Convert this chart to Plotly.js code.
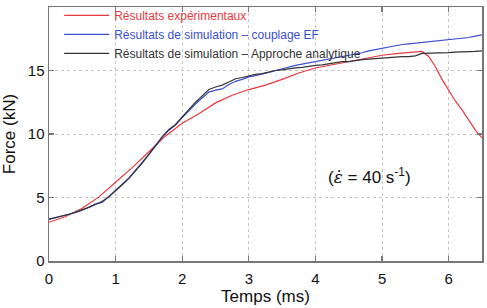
<!DOCTYPE html>
<html>
<head>
<meta charset="utf-8">
<script src="https://cdn.plot.ly/plotly-3.0.1.min.js"></script>
<style>html,body{margin:0;padding:0;background:#fff;}#chart{width:487px;height:308px;}</style>
</head>
<body>
<div id="chart"></div>
<script>
// Time axis samples (ms)
var tSim = [0.0,0.1,0.2,0.3,0.4,0.5,0.6,0.7,0.8,0.9,1.0,1.1,1.2,1.3,1.4,1.5,1.6,1.7,1.8,1.9,2.0,2.1,2.2,2.3,2.4,2.5,2.6,2.7,2.8,2.9,3.0,3.1,3.2,3.3,3.4,3.5,3.6,3.7,3.8,3.9,4.0,4.1,4.2,4.3,4.4,4.5,4.6,4.7,4.8,4.9,5.0,5.1,5.2,5.3,5.4,5.5,5.6,5.7,5.8,5.9,6.0,6.1,6.2,6.3,6.4,6.5];
// Simulation - couplage EF (kN)
var forceEF = [3.28,3.40,3.52,3.66,3.82,4.00,4.25,4.50,4.62,5.10,5.55,6.05,6.55,7.15,7.75,8.40,9.05,9.75,10.30,10.70,11.30,11.85,12.35,12.85,13.30,13.45,13.55,13.90,14.15,14.30,14.50,14.60,14.70,14.85,15.00,15.15,15.25,15.40,15.50,15.60,15.70,15.80,15.90,15.95,16.05,16.15,16.30,16.40,16.55,16.65,16.80,16.90,17.00,17.05,17.10,17.15,17.25,17.30,17.35,17.40,17.45,17.50,17.50,17.60,17.70,17.80];
// Simulation - approche analytique (kN)
var forceAna = [3.30,3.42,3.55,3.68,3.85,4.02,4.22,4.45,4.70,5.05,5.50,6.00,6.50,7.10,7.70,8.40,9.10,9.80,10.35,10.75,11.35,11.95,12.50,13.00,13.50,13.70,13.85,14.10,14.35,14.45,14.60,14.70,14.75,14.90,15.00,15.05,15.15,15.20,15.25,15.35,15.40,15.45,15.55,15.65,15.70,15.70,15.80,15.85,15.90,15.95,16.00,16.00,16.05,16.10,16.10,16.15,16.35,16.35,16.40,16.40,16.40,16.45,16.45,16.50,16.50,16.55];
// Experimental results
var tExp = [0,0.25,0.5,0.75,1.0,1.25,1.5,1.75,2.0,2.25,2.5,2.75,3.0,3.25,3.5,3.75,4.0,4.25,4.5,4.75,5.0,5.25,5.5,5.6,5.7,5.8,5.9,6.0,6.1,6.2,6.3,6.4,6.5];
var forceExp = [3.05,3.5,4.15,5.05,6.2,7.35,8.6,9.85,10.85,11.6,12.45,13.05,13.5,13.85,14.3,14.8,15.2,15.45,15.7,15.95,16.2,16.35,16.45,16.5,16.1,15.3,14.3,13.4,12.6,11.9,11.1,10.3,9.7];

var xTicks = [0,1,2,3,4,5,6];
var yTicks = [0,5,10,15,20];
var names = ['Résultats expérimentaux','Résultats de simulation – couplage EF','Résultats de simulation – Approche analytique'];
var colors = ['#e6383e','#3a4fd0','#333333'];

var traces = [
  {x: tExp, y: forceExp, type:'scatter', mode:'lines', line:{color:colors[0], width:1.2}, name:'<span style="color:'+colors[0]+'">'+names[0]+'</span>'},
  {x: tSim, y: forceEF, type:'scatter', mode:'lines', line:{color:colors[1], width:1.2}, name:'<span style="color:'+colors[1]+'">'+names[1]+'</span>'},
  {x: tSim, y: forceAna, type:'scatter', mode:'lines', line:{color:colors[2], width:1.2}, name:'<span style="color:'+colors[2]+'">'+names[2]+'</span>'}
];

var axisCommon = {
  showline:true, linecolor:'#777', linewidth:1.5, mirror:'ticks',
  ticks:'inside', ticklen:5, tickcolor:'#777', tickwidth:1.2,
  showgrid:true, gridcolor:'#c4c4c4', griddash:'dot', gridwidth:1,
  zeroline:false,
  tickfont:{family:'Liberation Sans, Arial, sans-serif', size:15, color:'#111'}
};

var layout = {
  width:487, height:308,
  margin:{l:49, r:5, t:7, b:47, autoexpand:false},
  paper_bgcolor:'#fff', plot_bgcolor:'#fff',
  font:{family:'Liberation Sans, Arial, sans-serif', color:'#111'},
  xaxis: Object.assign({}, axisCommon, {range:[0,6.5], tickvals:xTicks, ticktext:xTicks.map(String), ticklabelstandoff:3,
    title:{text:'Temps (ms)', font:{size:17, color:'#111'}, standoff:4}}),
  yaxis: Object.assign({}, axisCommon, {range:[0,20], tickvals:yTicks, ticktext:yTicks.map(String),
    title:{text:'Force (kN)', font:{size:17, color:'#111'}, standoff:8}}),
  showlegend:true,
  legend:{x:0.0235, y:1.024, xanchor:'left', yanchor:'top', bgcolor:'rgba(0,0,0,0)', borderwidth:0,
    font:{family:'Liberation Sans, Arial, sans-serif', size:12, color:'#111'}, itemwidth:45, tracegroupgap:0},
  annotations:[
    {xref:'x', yref:'y', x:4.81, y:6.7, xanchor:'center', yanchor:'middle', showarrow:false,
     text:'(<span style="font-family:DejaVu Serif"><i>ε\u0307</i></span> = 40 s<sup>-1</sup>)', font:{family:'Liberation Sans, Arial, sans-serif', size:17, color:'#111'}}
  ]
};

Plotly.newPlot('chart', traces, layout, {staticPlot:true, displayModeBar:false});
</script>
</body>
</html>
